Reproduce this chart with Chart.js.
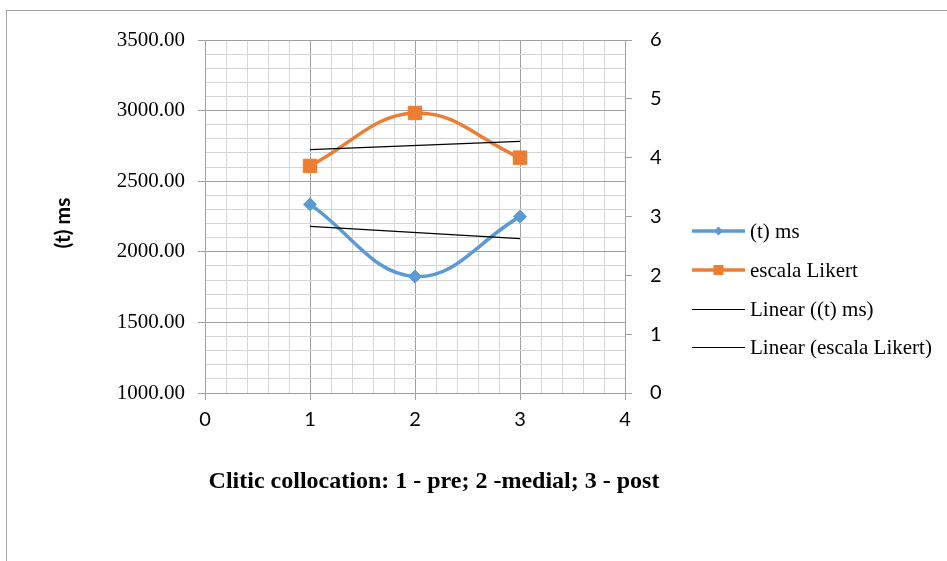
<!DOCTYPE html>
<html>
<head>
<meta charset="utf-8">
<script src="https://cdn.jsdelivr.net/npm/chart.js@4/dist/chart.umd.min.js"></script>
<style>
  html, body { margin: 0; padding: 0; background: #fff; overflow: hidden; }
  #wrap { position: relative; width: 947px; height: 561px; }
  #frame { position: absolute; left: 6px; top: 10px; width: 980px; height: 600px;
           border-left: 1px solid #a6a6a6; border-top: 1px solid #a6a6a6; }
  canvas { position: absolute; left: 0; top: 0; }
</style>
</head>
<body>
<div id="wrap">
  <div id="frame"></div>
  <canvas id="chart" width="947" height="561"></canvas>
</div>
<script>
// Clitic position (1 = pre, 2 = medial, 3 = post)
const positions = [1, 2, 3];
// Reaction time in ms (left axis)
const timeMs = [2336, 1825, 2249];
// Likert scale rating (right axis)
const likert = [3.86, 4.76, 4.00];

const seriesNames = ['(t) ms', 'escala Likert'];
const trendNames = ['Linear ((t) ms)', 'Linear (escala Likert)'];
const xTitle = 'Clitic collocation: 1 - pre; 2 -medial; 3 - post';
const yTitle = '(t) ms';

const SERIF = '"Liberation Serif", "Times New Roman", serif';
const SANS = 'Lato, "Liberation Sans", sans-serif';
const BLUE = '#5B9BD5';
const ORANGE = '#ED7D31';
const MAJOR = '#a0a0a0';
const MINOR = '#d6d6d6';

// least-squares line, evaluated at the first and last x
function linearFit(xs, ys) {
  const n = xs.length;
  const mx = xs.reduce((a, b) => a + b, 0) / n;
  const my = ys.reduce((a, b) => a + b, 0) / n;
  let sxy = 0, sxx = 0;
  for (let i = 0; i < n; i++) { sxy += (xs[i] - mx) * (ys[i] - my); sxx += (xs[i] - mx) ** 2; }
  const b = sxy / sxx, a = my - b * mx;
  return [xs[0], xs[n - 1]].map(x => ({ x, y: a + b * x }));
}
const pts = (xs, ys) => xs.map((x, i) => ({ x, y: ys[i] }));

const isMult = (v, m) => Math.abs(v / m - Math.round(v / m)) < 1e-6;
const CLEAR = 'rgba(0,0,0,0)';

// axis titles and the legend block
const decorations = {
  id: 'decorations',
  afterDraw(chart) {
    const ctx = chart.ctx;
    ctx.save();
    ctx.fillStyle = '#000';
    ctx.textBaseline = 'middle';

    ctx.font = 'bold 24px ' + SERIF;
    ctx.textAlign = 'center';
    ctx.fillText(xTitle, 434, 482);

    ctx.save();
    ctx.translate(63, 223);
    ctx.rotate(-Math.PI / 2);
    ctx.font = 'bold 21px ' + SANS;
    ctx.fillText(yTitle, 0, 0);
    ctx.restore();

    const items = [
      { text: seriesNames[0], color: BLUE, width: 3.5, marker: 'diamond' },
      { text: seriesNames[1], color: ORANGE, width: 3.5, marker: 'square' },
      { text: trendNames[0], color: '#000', width: 1 },
      { text: trendNames[1], color: '#000', width: 1 }
    ];
    const ys = [231, 270, 309, 347];
    ctx.textAlign = 'left';
    ctx.font = '21px ' + SERIF;
    items.forEach((it, i) => {
      const y = ys[i];
      const ly = it.width === 1 ? y + 0.5 : y;
      ctx.strokeStyle = it.color;
      ctx.lineWidth = it.width;
      ctx.beginPath();
      ctx.moveTo(692, ly);
      ctx.lineTo(745, ly);
      ctx.stroke();
      ctx.fillStyle = it.color;
      const cx = 718.5;
      if (it.marker === 'diamond') {
        ctx.beginPath();
        ctx.moveTo(cx, y - 4.5); ctx.lineTo(cx + 4.5, y); ctx.lineTo(cx, y + 4.5); ctx.lineTo(cx - 4.5, y);
        ctx.closePath(); ctx.fill();
      } else if (it.marker === 'square') {
        ctx.fillRect(cx - 5, y - 5, 10, 10);
      }
      ctx.fillStyle = '#000';
      ctx.fillText(it.text, 750, y + 1);
    });
    ctx.restore();
  }
};

new Chart(document.getElementById('chart'), {
  type: 'scatter',
  data: {
    datasets: [
      { label: trendNames[0], data: linearFit(positions, timeMs), yAxisID: 'y', showLine: true,
        borderColor: '#000', borderWidth: 1.3, pointRadius: 0, tension: 0 },
      { label: trendNames[1], data: linearFit(positions, likert), yAxisID: 'y2', showLine: true,
        borderColor: '#000', borderWidth: 1.3, pointRadius: 0, tension: 0 },
      { label: seriesNames[0], data: pts(positions, timeMs), yAxisID: 'y', showLine: true,
        borderColor: BLUE, backgroundColor: BLUE, borderWidth: 3.5, tension: 0.4,
        pointStyle: 'rectRot', pointRadius: 6.5, pointBackgroundColor: BLUE,
        pointBorderColor: BLUE, pointBorderWidth: 1 },
      { label: seriesNames[1], data: pts(positions, likert), yAxisID: 'y2', showLine: true,
        borderColor: ORANGE, backgroundColor: ORANGE, borderWidth: 3.5, tension: 0.4,
        pointStyle: 'rect', pointRadius: 9.5, pointBackgroundColor: ORANGE,
        pointBorderColor: ORANGE, pointBorderWidth: 1 }
    ]
  },
  options: {
    responsive: false,
    animation: false,
    events: [],
    layout: { padding: { top: 40, left: 0, right: 0, bottom: 0 } },
    plugins: { legend: { display: false }, tooltip: { enabled: false } },
    scales: {
      x: {
        type: 'linear', position: 'bottom', min: 0, max: 4,
        ticks: {
          stepSize: 0.2, autoSkip: false, maxRotation: 0, padding: 8, color: '#000',
          font: { family: SANS, size: 20 },
          callback: v => isMult(v, 1) ? String(Math.round(v)) : ''
        },
        grid: {
          lineWidth: 1, tickLength: 7,
          color: c => isMult(c.tick.value, 1) ? MAJOR : MINOR,
          tickColor: c => isMult(c.tick.value, 1) ? MAJOR : CLEAR
        },
        border: { color: MAJOR, width: 1 },
        afterFit: s => { s.height = 168; }
      },
      y: {
        type: 'linear', position: 'left', min: 1000, max: 3500,
        ticks: {
          stepSize: 100, autoSkip: false, padding: 13, color: '#000',
          font: { family: SERIF, size: 21 },
          callback: v => isMult(v, 500) ? v.toFixed(2) : ''
        },
        grid: {
          lineWidth: 1, tickLength: 7,
          color: c => isMult(c.tick.value, 500) ? MAJOR : MINOR,
          tickColor: c => isMult(c.tick.value, 500) ? MAJOR : CLEAR
        },
        border: { color: MAJOR, width: 1 },
        afterFit: s => { s.width = 205; }
      },
      y2: {
        type: 'linear', position: 'right', min: 0, max: 6,
        ticks: {
          stepSize: 1, padding: 18, color: '#000',
          font: { family: SANS, size: 20 }
        },
        grid: { drawOnChartArea: false, tickLength: 7, color: MAJOR },
        border: { color: MAJOR, width: 1 },
        afterFit: s => { s.width = 322; }
      }
    }
  },
  plugins: [decorations]
});
</script>
</body>
</html>
